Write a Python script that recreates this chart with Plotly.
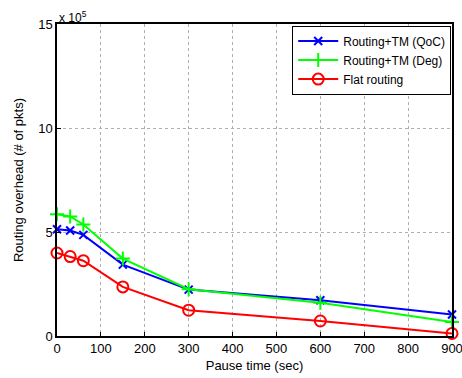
import plotly.graph_objects as go

pause = [0, 30, 60, 150, 300, 600, 900]
qoc = [5.13, 5.07, 4.86, 3.43, 2.23, 1.72, 1.03]
deg = [5.85, 5.75, 5.36, 3.72, 2.25, 1.60, 0.67]
flat = [3.99, 3.82, 3.62, 2.36, 1.24, 0.72, 0.12]
scale = 1e5

fig = go.Figure()
fig.add_trace(go.Scatter(x=pause, y=[v * scale for v in qoc], name="Routing+TM (QoC)",
                         mode="lines+markers", line=dict(color="#0000ff", width=2), cliponaxis=False,
                         marker=dict(symbol="x-thin", size=8, line=dict(color="#0000ff", width=2))))
fig.add_trace(go.Scatter(x=pause, y=[v * scale for v in deg], name="Routing+TM (Deg)",
                         mode="lines+markers", line=dict(color="#00ff00", width=2), cliponaxis=False,
                         marker=dict(symbol="cross-thin", size=10, line=dict(color="#00ff00", width=2))))
fig.add_trace(go.Scatter(x=pause, y=[v * scale for v in flat], name="Flat routing",
                         mode="lines+markers", line=dict(color="#ff0000", width=2), cliponaxis=False,
                         marker=dict(symbol="circle-open", size=11, line=dict(color="#ff0000", width=2))))

axis_common = dict(showline=True, linecolor="black", linewidth=1.5, mirror=True,
                   ticks="inside", ticklen=4, tickcolor="black", automargin=False,
                   ticklabeloverflow="allow",
                   showgrid=True, gridcolor="#b0b0b0", griddash="dot", gridwidth=1,
                   zeroline=False, tickfont=dict(size=13, color="black"))

fig.update_xaxes(range=[0, 900], dtick=100,
                 title=dict(text="Pause time (sec)", font=dict(size=13, color="black"), standoff=6),
                 **axis_common)
fig.update_yaxes(range=[0, 15e5], tickvals=[0, 5e5, 10e5, 15e5], ticktext=["0", "5", "10", "15"],
                 title=dict(text="Routing overhead (# of pkts)", font=dict(size=13, color="black"), standoff=12),
                 **axis_common)

fig.add_annotation(x=0, y=1, xref="paper", yref="paper", xanchor="left", yanchor="bottom",
                   text="x 10<sup>5</sup>", showarrow=False, font=dict(size=12, color="black"), yshift=-3)

fig.update_layout(
    width=462, height=378,
    margin=dict(l=57, r=10, t=24, b=42, autoexpand=False),
    paper_bgcolor="white", plot_bgcolor="white",
    font=dict(family="Liberation Sans, Arial, sans-serif", color="black"),
    legend=dict(x=0.998, y=0.995, xanchor="right", yanchor="top", bgcolor="white",
                bordercolor="black", borderwidth=1, font=dict(size=12),
                tracegroupgap=0, itemwidth=40),
    showlegend=True,
)

fig.write_html("out.html", config={"displayModeBar": False},
               post_script="document.body.style.margin='0';document.body.style.overflow='hidden';")
